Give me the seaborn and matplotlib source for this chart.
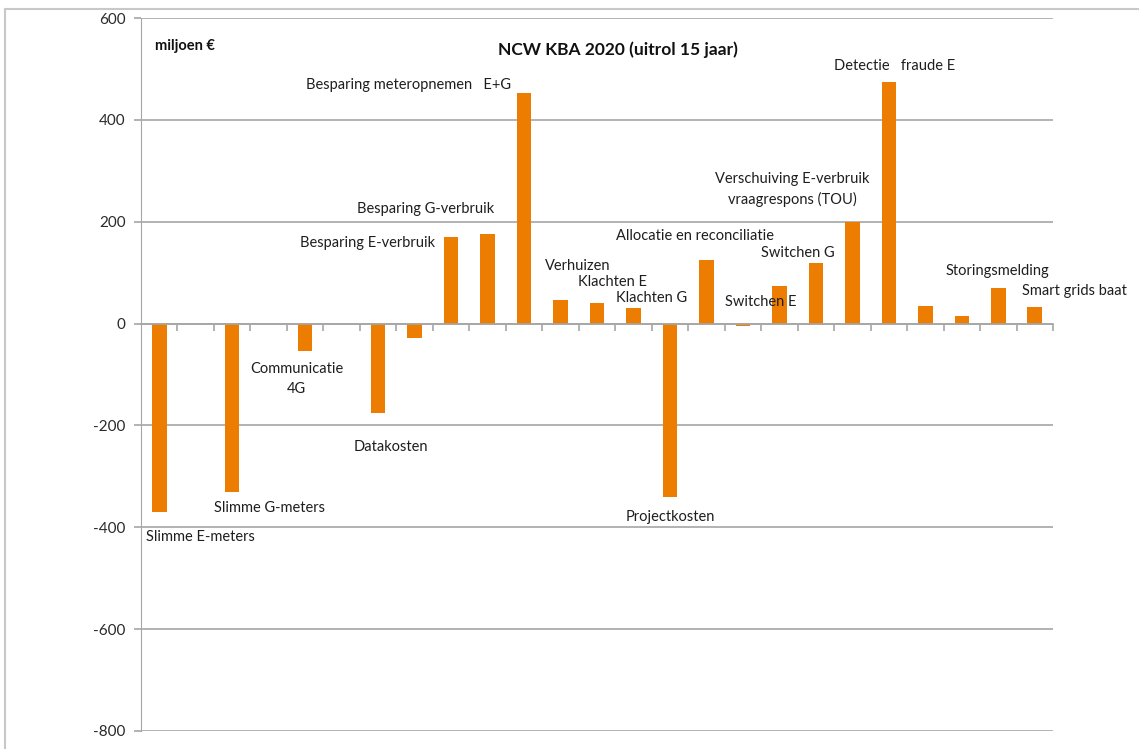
import matplotlib.pyplot as plt
import matplotlib.lines as mlines
import numpy as np
import pandas as pd
import seaborn as sns

# categories in chart order (empty slots have no value)
categories = ["Slimme E-meters", "leeg 1", "Slimme G-meters", "leeg 2",
              "Communicatie 4G", "leeg 3", "Datakosten", "overig 1",
              "Besparing E-verbruik", "Besparing G-verbruik",
              "Besparing meteropnemen E+G", "Verhuizen", "Klachten E",
              "Klachten G", "Projectkosten", "Allocatie en reconciliatie",
              "overig 2", "Switchen E", "Switchen G",
              "Verschuiving E-verbruik vraagrespons (TOU)",
              "Detectie fraude E", "overig 3", "overig 4",
              "Storingsmelding", "Smart grids baat"]
values = [-370, np.nan, -330, np.nan,
          -54, np.nan, -176, -29,
          170, 175,
          453, 46, 41,
          30, -341, 124,
          -4, 73, 118,
          200,
          475, 35, 15,
          70, 32]

# label text shown on the chart per category
label_text = {
    "Slimme E-meters": "Slimme E-meters",
    "Slimme G-meters": "Slimme G-meters",
    "Communicatie 4G": "Communicatie\n4G",
    "Datakosten": "Datakosten",
    "Besparing E-verbruik": "Besparing E-verbruik",
    "Besparing G-verbruik": "Besparing G-verbruik",
    "Besparing meteropnemen E+G": "Besparing meteropnemen   E+G",
    "Verhuizen": "Verhuizen",
    "Klachten E": "Klachten E",
    "Klachten G": "Klachten G",
    "Projectkosten": "Projectkosten",
    "Allocatie en reconciliatie": "Allocatie en reconciliatie",
    "Switchen E": "Switchen E",
    "Switchen G": "Switchen G",
    "Verschuiving E-verbruik vraagrespons (TOU)": "Verschuiving E-verbruik\nvraagrespons (TOU)",
    "Detectie fraude E": "Detectie   fraude E",
    "Storingsmelding": "Storingsmelding",
    "Smart grids baat": "Smart grids baat",
}
# where each label sits (data coords)
label_pos = {
    "Slimme E-meters": (1.12, -419),
    "Slimme G-meters": (3.01, -362),
    "Communicatie 4G": (3.77, -109),
    "Datakosten": (6.35, -242),
    "Besparing E-verbruik": (5.72, 159),
    "Besparing G-verbruik": (7.31, 224),
    "Besparing meteropnemen E+G": (6.82, 468),
    "Verhuizen": (11.47, 114),
    "Klachten E": (12.43, 81),
    "Klachten G": (13.5, 51),
    "Projectkosten": (14.02, -380),
    "Allocatie en reconciliatie": (14.7, 171),
    "Switchen E": (16.49, 43),
    "Switchen G": (17.5, 138),
    "Verschuiving E-verbruik vraagrespons (TOU)": (17.36, 264),
    "Detectie fraude E": (20.16, 505),
    "Storingsmelding": (22.98, 104),
    "Smart grids baat": (25.09, 63),
}

df = pd.DataFrame({"categorie": categories, "waarde": values})

sns.set_style("white")
plt.rcParams['font.family'] = ['Lato', 'DejaVu Sans']

fig = plt.figure(figsize=(11.39, 7.49), dpi=100)
ax = fig.add_axes([141 / 1139, 18 / 749, 912 / 1139, 713 / 749])

sns.barplot(data=df, x="categorie", y="waarde", order=categories,
            color="#ED7D00", saturation=1, width=0.4, linewidth=0,
            ax=ax, zorder=3)

ax.set_xlim(-0.5, 24.5)
ax.set_ylim(-800, 600)
ax.set_yticks(np.arange(-800, 601, 200))
ax.set_yticklabels([str(v) for v in range(-800, 601, 200)])
ax.yaxis.grid(True, color="#a6a6a6", linewidth=1.2, zorder=0)
ax.set_axisbelow(True)
ax.set_xlabel("")
ax.set_ylabel("")

# x axis along zero with ticks between categories
ax.set_xticks([])
ax.set_xticks(np.arange(0.5, 24.6, 1), minor=True)
ax.spines['bottom'].set_position(('data', 0))
ax.spines['bottom'].set_color("#a6a6a6")
ax.spines['bottom'].set_linewidth(1.2)
ax.spines['bottom'].set_zorder(4)
ax.spines['left'].set_color("#a6a6a6")
ax.spines['top'].set_visible(False)
ax.spines['right'].set_visible(False)
ax.tick_params(axis='x', which='minor', bottom=True, direction='out',
               length=5, color="#a6a6a6", width=1.2)
ax.tick_params(axis='y', left=True, direction='out', length=5,
               color="#a6a6a6", width=1.2,
               labelsize=11, labelcolor="#2a2a2a", pad=6)

for cat, txt in label_text.items():
    x, y = label_pos[cat]
    ax.text(x, y, txt, ha="center", va="center", fontsize=10.5,
            color="#1e1e1e", linespacing=1.5, clip_on=False)

ax.text(-0.12, 545, "miljoen €", ha="left", va="center", fontsize=10.5,
        fontweight="bold", color="#111111")
ax.text(12.57, 537, "NCW KBA 2020 (uitrol 15 jaar)", ha="center",
        va="center", fontsize=12.5, fontweight="bold", color="#111111")

# outer frame (left and top only, screenshot crop)
fig.add_artist(mlines.Line2D([5 / 1139, 5 / 1139], [0, 1 - 9 / 749],
                             color="#c8c8c8", linewidth=1.5))
fig.add_artist(mlines.Line2D([5 / 1139, 1], [1 - 9 / 749, 1 - 9 / 749],
                             color="#c8c8c8", linewidth=1.5))

fig.savefig("out.png", dpi=100)
